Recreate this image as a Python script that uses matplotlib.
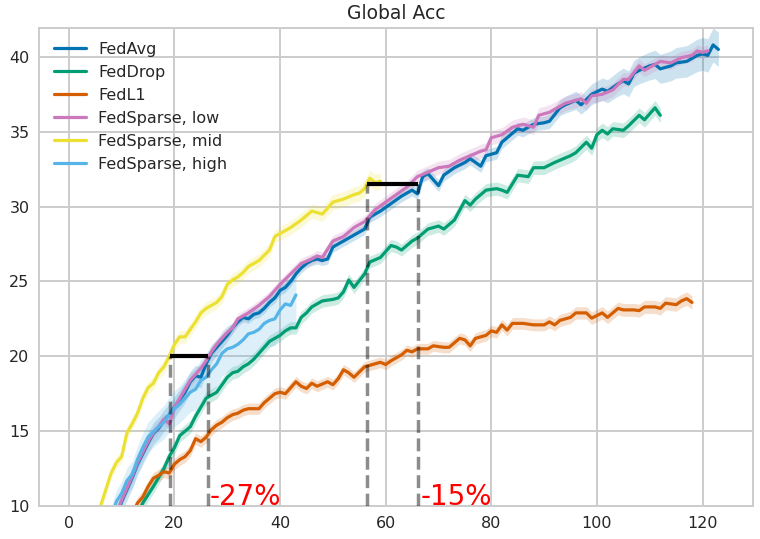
import numpy as np
import matplotlib
matplotlib.use("Agg")
import matplotlib.pyplot as plt
import seaborn as sns

# global accuracy per round
avg_x = [7, 9, 10, 11, 12, 13, 14, 15, 16, 17,
         18, 19, 20, 21, 22, 23, 24, 25, 26, 27,
         28, 29, 30, 31, 32, 33, 34, 35, 36, 37,
         38, 39, 40, 41, 42, 43, 44, 45, 46, 47,
         48, 49, 50, 52, 54, 55, 56, 57, 59, 61,
         63, 65, 66, 67, 68, 70, 71, 73, 75, 76,
         78, 79, 81, 82, 83, 85, 86, 88, 90, 91,
         93, 94, 96, 97, 99, 101, 102, 104, 105, 106,
         107, 108, 110, 111, 112, 114, 115, 117, 119, 120,
         121, 122, 123]
avg_y = [7.5, 9.3, 10.3, 11.1, 11.9, 12.8, 13.5, 14.2, 14.85, 15.2,
         15.7, 16.1, 16.6, 17.1, 17.6, 18.3, 18.7, 18.6, 19.5, 20.2,
         20.6, 21.0, 21.4, 21.9, 22.3, 22.6, 22.5, 22.8, 22.9, 23.2,
         23.6, 23.9, 24.4, 24.6, 25.0, 25.5, 25.9, 26.2, 26.4, 26.5,
         26.4, 26.5, 27.3, 27.7, 28.1, 28.3, 28.5, 29.3, 29.7, 30.2,
         30.7, 31.1, 30.85, 32.0, 32.2, 31.4, 32.1, 32.6, 32.95, 33.2,
         32.7, 33.4, 33.6, 34.3, 34.6, 35.2, 35.1, 35.5, 35.6, 35.7,
         36.6, 36.8, 37.1, 36.8, 37.5, 37.85, 37.7, 38.2, 38.4, 38.2,
         38.9, 39.1, 39.4, 39.5, 39.2, 39.4, 39.6, 39.7, 40.1, 40.2,
         40.1, 40.8, 40.5]

drop_x = [12, 14, 16, 17, 18, 19, 20, 21, 22, 23,
          24, 25, 26, 27, 28, 29, 30, 31, 32, 33,
          34, 35, 36, 37, 38, 39, 40, 41, 42, 43,
          44, 45, 46, 47, 48, 50, 51, 52, 53, 54,
          56, 57, 59, 61, 62, 63, 65, 66, 68, 70,
          71, 73, 75, 76, 77, 79, 81, 82, 83, 85,
          87, 88, 90, 92, 93, 95, 96, 98, 99, 100,
          101, 102, 103, 105, 106, 108, 109, 111, 112]
drop_y = [8.7, 10.2, 11.3, 11.9, 12.5, 13.3, 13.9, 14.7, 15.0, 15.3,
          16.0, 16.6, 17.2, 17.4, 17.6, 18.1, 18.6, 18.9, 19.0, 19.3,
          19.5, 19.8, 20.2, 20.6, 21.0, 21.2, 21.4, 21.7, 21.9, 21.9,
          22.6, 22.9, 23.3, 23.5, 23.7, 23.8, 23.9, 24.3, 25.1, 24.6,
          25.5, 26.3, 26.6, 27.4, 27.3, 27.1, 27.7, 27.9, 28.5, 28.7,
          28.5, 29.1, 30.4, 30.1, 30.5, 31.1, 31.2, 31.1, 30.95, 32.1,
          32.0, 32.6, 32.6, 32.95, 33.1, 33.4, 33.6, 34.3, 33.9, 34.8,
          35.1, 34.85, 35.2, 35.1, 35.4, 36.1, 35.8, 36.6, 36.1]

l1_x = [11, 13, 14, 15, 16, 17, 18, 19, 20, 21,
        22, 23, 24, 25, 26, 27, 28, 29, 30, 31,
        32, 33, 34, 36, 37, 38, 39, 40, 41, 43,
        44, 45, 46, 47, 49, 50, 51, 52, 53, 54,
        56, 58, 59, 60, 61, 62, 63, 64, 65, 66,
        68, 69, 71, 72, 74, 75, 76, 77, 79, 80,
        81, 82, 83, 84, 86, 88, 90, 91, 92, 93,
        95, 96, 98, 99, 101, 102, 104, 105, 107, 108,
        109, 111, 112, 113, 115, 116, 117, 118]
l1_y = [8.7, 10.2, 10.6, 11.3, 11.85, 12.05, 12.3, 12.2, 12.8, 13.1,
        13.3, 13.7, 14.5, 14.3, 14.6, 15.1, 15.4, 15.6, 15.9, 16.1,
        16.2, 16.4, 16.5, 16.5, 16.9, 17.2, 17.5, 17.6, 17.5, 18.3,
        18.0, 17.85, 18.2, 18.0, 18.3, 18.1, 18.5, 19.1, 18.9, 18.6,
        19.3, 19.5, 19.6, 19.45, 19.7, 19.9, 20.1, 20.4, 20.3, 20.5,
        20.5, 20.7, 20.6, 20.6, 21.2, 21.1, 20.7, 21.2, 21.4, 21.7,
        21.6, 22.1, 21.75, 22.2, 22.2, 22.1, 22.1, 22.3, 22.1, 22.4,
        22.6, 22.9, 22.9, 22.55, 22.9, 22.6, 23.2, 23.1, 23.1, 23.05,
        23.3, 23.3, 23.2, 23.55, 23.45, 23.7, 23.85, 23.6]

low_x = [7, 9, 10, 11, 12, 13, 14, 15, 16, 17,
         18, 19, 20, 21, 22, 23, 24, 25, 26, 27,
         28, 29, 30, 31, 32, 34, 36, 38, 40, 42,
         44, 46, 47, 48, 50, 52, 54, 56, 58, 60,
         62, 64, 66, 68, 70, 72, 74, 76, 78, 79,
         80, 82, 84, 86, 88, 89, 91, 93, 94, 96,
         97, 98, 99, 101, 103, 105, 106, 108, 109, 111,
         112, 114, 116, 118, 119, 120, 121]
low_y = [7.6, 9.5, 10.4, 11.2, 12.0, 12.9, 13.6, 14.3, 14.9, 15.3,
         15.8, 15.5, 16.6, 17.2, 17.8, 18.4, 18.8, 19.2, 19.7, 20.3,
         20.8, 21.2, 21.6, 21.9, 22.5, 22.9, 23.4, 24.0, 24.8, 25.5,
         26.2, 26.5, 26.7, 26.6, 27.7, 28.0, 28.6, 29.0, 29.8, 30.3,
         30.8, 31.3, 32.0, 32.3, 32.6, 32.7, 33.1, 33.4, 33.7, 33.8,
         34.6, 34.8, 35.3, 35.5, 35.3, 36.1, 36.3, 36.7, 36.9, 37.1,
         37.2, 36.9, 37.4, 37.5, 37.8, 38.5, 38.5, 39.4, 39.1, 39.5,
         39.7, 39.6, 39.95, 40.1, 40.4, 40.3, 40.4]

mid_x = [4, 6, 7, 8, 9, 10, 11, 12, 13, 14,
         15, 16, 17, 18, 19, 20, 21, 22, 24, 25,
         26, 27, 28, 29, 30, 31, 32, 33, 34, 36,
         38, 39, 40, 42, 44, 45, 46, 47, 48, 50,
         52, 54, 55, 56, 57, 58, 59]
mid_y = [7.6, 10.0, 11.1, 12.2, 12.9, 13.3, 14.9, 15.5, 16.2, 17.2,
         17.9, 18.2, 18.9, 19.3, 20.0, 20.8, 21.3, 21.3, 22.3, 22.9,
         23.2, 23.4, 23.6, 24.0, 24.8, 25.1, 25.3, 25.6, 26.0, 26.4,
         27.1, 28.0, 28.2, 28.6, 29.1, 29.4, 29.7, 29.6, 29.5, 30.3,
         30.5, 30.8, 30.9, 31.2, 31.9, 31.6, 31.7]

high_x = [7, 9, 10, 11, 12, 13, 14, 15, 16, 17,
          18, 19, 20, 21, 22, 23, 24, 25, 26, 27,
          28, 29, 30, 31, 32, 33, 34, 35, 36, 37,
          38, 39, 40, 41, 42, 43]
high_y = [8.2, 10.3, 10.85, 11.7, 12.1, 13.1, 13.9, 14.6, 14.95, 15.3,
          15.6, 16.1, 16.5, 16.8, 17.2, 17.6, 17.8, 18.4, 18.6, 19.1,
          19.5, 20.2, 20.5, 20.6, 20.8, 21.1, 21.5, 21.6, 21.8, 22.2,
          22.4, 22.5, 23.1, 23.5, 23.4, 24.1]

# half width of the shaded band, estimated at a few rounds
avg_band_x = [7, 25, 32, 90, 105, 123]
avg_band = [0.75, 0.7, 0.3, 0.45, 0.85, 1.15]
drop_band_x = [12, 60, 112]
drop_band = [0.45, 0.4, 0.5]
l1_band_x = [11, 60, 118]
l1_band = [0.4, 0.35, 0.45]
low_band_x = [7, 40, 90, 121]
low_band = [0.4, 0.35, 0.5, 0.4]
mid_band_x = [4, 40, 59]
mid_band = [0.4, 0.45, 0.55]
high_band_x = [7, 15, 25, 35, 43]
high_band = [0.7, 1.0, 1.4, 1.7, 1.8]

labels = ["FedAvg", "FedDrop", "FedL1", "FedSparse, low", "FedSparse, mid", "FedSparse, high"]
colors = ["#0173b2", "#029e73", "#d55e00", "#cc78bc", "#ece133", "#56b4e9"]

series = [
    (avg_x, avg_y, avg_band_x, avg_band),
    (drop_x, drop_y, drop_band_x, drop_band),
    (l1_x, l1_y, l1_band_x, l1_band),
    (low_x, low_y, low_band_x, low_band),
    (mid_x, mid_y, mid_band_x, mid_band),
    (high_x, high_y, high_band_x, high_band),
]

sns.set_style("whitegrid")
plt.rcParams["grid.linewidth"] = 1.4
plt.rcParams["axes.linewidth"] = 1.4

fig = plt.figure(figsize=(7.6, 5.39), dpi=100)
ax = fig.add_subplot(111)
fig.subplots_adjust(left=0.0517, right=0.9904, top=0.9486, bottom=0.0612)

for (x, y, bx, bw), lab, c in zip(series, labels, colors):
    x = np.asarray(x)
    y = np.asarray(y)
    half = np.interp(x, bx, bw)
    ax.fill_between(x, y - half, y + half, color=c, alpha=0.2, lw=0)
    ax.plot(x, y, color=c, lw=2.3, label=lab)

# time-to-accuracy markers
ax.hlines(20, 19.24, 26.4, colors="k", lw=3, zorder=5)
ax.hlines(31.5, 56.55, 66.2, colors="k", lw=3, zorder=5)
ax.vlines([19.24, 26.4], 10, 20, colors="k", linestyles="--", lw=2.5, alpha=0.45, zorder=5)
ax.vlines([56.55, 66.2], 10, 31.5, colors="k", linestyles="--", lw=2.5, alpha=0.45, zorder=5)
ax.text(26.7, 10.05, "-27%", color="red", fontsize=20, ha="left", va="baseline")
ax.text(66.6, 10.05, "-15%", color="red", fontsize=20, ha="left", va="baseline")

ax.set_xlim(-5.6, 129.5)
ax.set_ylim(10, 41.95)
ax.set_xticks(range(0, 121, 20))
ax.set_yticks(range(10, 41, 5))
ax.tick_params(labelsize=11.5)
ax.set_title("Global Acc", fontsize=13.5)
ax.legend(loc="upper left", fontsize=11.5, frameon=False)

fig.savefig("out.png", dpi=100)
plt.close(fig)
